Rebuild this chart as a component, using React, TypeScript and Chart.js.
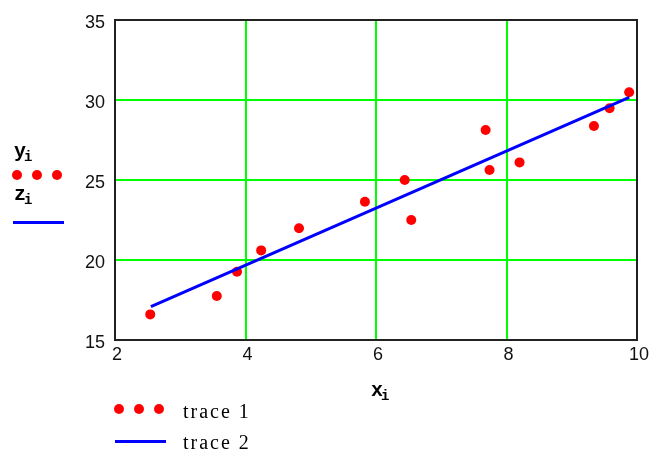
import React, { useEffect, useRef } from "react";
import { Chart, registerables } from "chart.js";

Chart.register(...registerables);

const xValues = [2.54, 3.56, 3.87, 4.24, 4.82, 5.83, 6.44, 6.54, 7.68, 7.74, 8.2, 9.34, 9.58, 9.88];
const yValues = [16.6, 17.75, 19.27, 20.6, 21.98, 23.64, 25.0, 22.5, 28.12, 25.62, 26.1, 28.37, 29.48, 30.48];
const lineX = [2.55, 9.88];
const lineZ = [17.08, 30.17];
const xTicks = [2, 4, 6, 8, 10];
const yTicks = [15, 20, 25, 30, 35];
const legendLabels = ["trace 1", "trace 2"];

const framePlugin = {
  id: "frame",
  afterDatasetsDraw(chart: any) {
    const { ctx, chartArea } = chart;
    ctx.save();
    ctx.strokeStyle = "#222222";
    ctx.lineWidth = 2;
    ctx.strokeRect(chartArea.left, chartArea.top, chartArea.right - chartArea.left, chartArea.bottom - chartArea.top);
    ctx.restore();
  },
};

export default function App() {
  const ref = useRef<HTMLCanvasElement | null>(null);
  useEffect(() => {
    if (!ref.current) return;
    const chart = new Chart(ref.current, {
      type: "scatter",
      data: {
        datasets: [
          {
            label: legendLabels[1],
            data: lineX.map((x, i) => ({ x, y: lineZ[i] })),
            showLine: true,
            borderColor: "#0000ff",
            borderWidth: 3,
            pointRadius: 0,
            order: 0,
          },
          {
            label: legendLabels[0],
            data: xValues.map((x, i) => ({ x, y: yValues[i] })),
            showLine: false,
            backgroundColor: "#ff0000",
            borderColor: "#ff0000",
            borderWidth: 0,
            pointRadius: 5,
            order: 1,
          },
        ],
      },
      options: {
        animation: false,
        responsive: false,
        devicePixelRatio: 1,
        layout: { padding: { left: 0, top: 20, right: 17, bottom: 0 } },
        plugins: { legend: { display: false }, tooltip: { enabled: false } },
        scales: {
          x: {
            type: "linear",
            min: xTicks[0],
            max: xTicks[xTicks.length - 1],
            afterBuildTicks: (s: any) => { s.ticks = xTicks.map((v) => ({ value: v })); },
            afterFit: (s: any) => { s.height = 118; },
            grid: { color: "#00ff00", lineWidth: 2, drawTicks: false },
            border: { display: false },
            ticks: { color: "#111", padding: 6, labelOffset: 2, font: { family: "Liberation Sans", size: 18, lineHeight: 1 }, maxRotation: 0 },
          },
          y: {
            type: "linear",
            min: yTicks[0],
            max: yTicks[yTicks.length - 1],
            afterBuildTicks: (s: any) => { s.ticks = yTicks.map((v) => ({ value: v })); },
            afterFit: (s: any) => { s.width = 115; },
            grid: { color: "#00ff00", lineWidth: 2, drawTicks: false },
            border: { display: false },
            ticks: { color: "#111", padding: 10, labelOffset: 3, font: { family: "Liberation Sans", size: 18, lineHeight: 1 } },
          },
        },
      },
      plugins: [framePlugin],
    } as any);
    return () => chart.destroy();
  }, []);

  const mono: React.CSSProperties = { position: "absolute", fontFamily: "Liberation Mono", fontWeight: "bold", fontSize: 20, color: "#000", lineHeight: 1 };
  const sub: React.CSSProperties = { fontSize: 14, position: "relative", top: 4, marginLeft: -2 };
  const dot = (left: number, top: number): React.CSSProperties => ({ position: "absolute", left: left - 5, top: top - 5, width: 10, height: 10, borderRadius: 5, background: "#ff0000" });
  const line = (left: number, top: number, width: number): React.CSSProperties => ({ position: "absolute", left, top: top - 1.5, width, height: 3, background: "#0000ff" });
  const serif: React.CSSProperties = { position: "absolute", fontFamily: "Liberation Serif", fontSize: 20, letterSpacing: 2, color: "#000", lineHeight: 1 };

  return (
    <div style={{ position: "fixed", left: 0, top: 0, width: 654, height: 458, background: "#fff" }}>
      <canvas ref={ref} width={654} height={458} style={{ position: "absolute", left: 0, top: 0, width: 654, height: 458 }} />
      <div style={{ ...mono, left: 14, top: 142 }}>y<span style={sub}>i</span></div>
      <div style={dot(17, 175)} />
      <div style={dot(37, 175)} />
      <div style={dot(57, 175)} />
      <div style={{ ...mono, left: 14, top: 185 }}>z<span style={sub}>i</span></div>
      <div style={line(13, 222, 51)} />
      <div style={{ ...mono, left: 371, top: 381 }}>x<span style={sub}>i</span></div>
      <div style={dot(119, 409)} />
      <div style={dot(139, 409)} />
      <div style={dot(159, 409)} />
      <div style={{ ...serif, left: 183, top: 401 }}>{legendLabels[0]}</div>
      <div style={line(115, 441, 51)} />
      <div style={{ ...serif, left: 183, top: 432 }}>{legendLabels[1]}</div>
    </div>
  );
}
